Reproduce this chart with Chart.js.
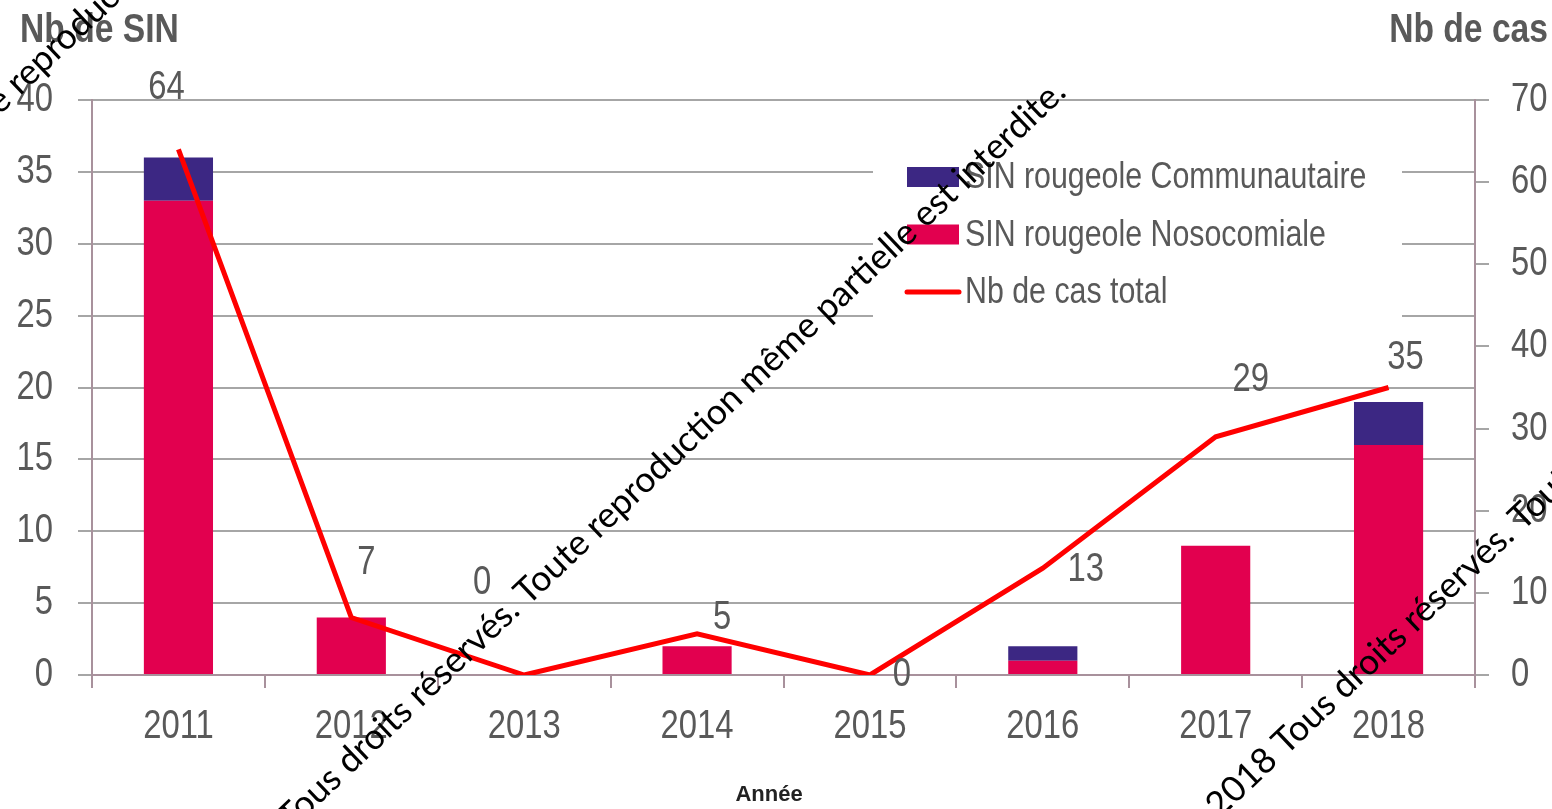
<!DOCTYPE html>
<html lang="fr">
<head>
<meta charset="utf-8">
<title>SIN rougeole 2011-2018</title>
<script src="https://cdn.jsdelivr.net/npm/chart.js@4.4.1/dist/chart.umd.min.js"></script>
<style>
  html, body { margin: 0; padding: 0; background: #fff; }
  #wrap { position: relative; width: 1552px; height: 809px; }
</style>
</head>
<body>
<div id="wrap"><canvas id="sinChart" width="1552" height="809"></canvas></div>
<script>
// Données
const annees = ['2011', '2012', '2013', '2014', '2015', '2016', '2017', '2018'];
const sinCommunautaire = [3, 0, 0, 0, 0, 1, 0, 3];
const sinNosocomiale = [33, 4, 0, 2, 0, 1, 9, 16];
const casTotal = [64, 7, 0, 5, 0, 13, 29, 35];

const FONT = '"Liberation Sans", Arial, sans-serif';
const NARROW = 0.82; // pas de police étroite installée : on comprime horizontalement
const GREY = '#595959';
const AXIS = '#a8919c';

// décalage des étiquettes autour des points de la courbe (px)
const labelOffsets = [[-12, -61], [15, -55], [-42, -92], [25, -16], [32, 0], [43, 2], [35, -57], [17, -30]];

// texte "Arial Narrow" simulé
function narrowText(ctx, txt, x, y, align) {
  ctx.save();
  ctx.translate(x, y);
  ctx.scale(NARROW, 1);
  ctx.textAlign = align;
  ctx.fillText(txt, 0, 0);
  ctx.restore();
}

const legendBox = {
  id: 'legendBox',
  beforeDatasetsDraw(chart) {
    const ctx = chart.ctx;
    const ds = chart.data.datasets;
    ctx.save();
    ctx.fillStyle = '#fff';
    ctx.fillRect(873, 128, 529, 200);
    ctx.font = '37px ' + FONT;
    ctx.textBaseline = 'middle';
    [1, 0, 2].forEach((i, k) => {
      const y = 177 + k * 57.5;
      if (ds[i].type === 'line') {
        ctx.strokeStyle = ds[i].borderColor;
        ctx.lineWidth = 5;
        ctx.lineCap = 'round';
        ctx.beginPath();
        ctx.moveTo(907, y);
        ctx.lineTo(959, y);
        ctx.stroke();
      } else {
        ctx.fillStyle = ds[i].backgroundColor;
        ctx.fillRect(907, y - 10, 52, 20);
      }
      ctx.fillStyle = GREY;
      narrowText(ctx, ds[i].label, 965, y + 1, 'left');
    });
    ctx.restore();
  }
};

const axisLabels = {
  id: 'axisLabels',
  afterDraw(chart) {
    const ctx = chart.ctx;
    const { x, y, y1 } = chart.scales;
    ctx.save();
    ctx.font = '40px ' + FONT;
    ctx.fillStyle = GREY;
    ctx.textBaseline = 'middle';
    y.ticks.forEach((t, i) => narrowText(ctx, String(t.value), 53, y.getPixelForTick(i), 'right'));
    y1.ticks.forEach((t, i) => narrowText(ctx, String(t.value), 1511, y1.getPixelForTick(i), 'left'));
    x.ticks.forEach((t, i) => narrowText(ctx, x.getLabelForValue(t.value), x.getPixelForTick(i), 727, 'center'));
    ctx.restore();
  }
};

const pointLabels = {
  id: 'pointLabels',
  afterDatasetsDraw(chart) {
    const ctx = chart.ctx;
    const meta = chart.getDatasetMeta(2);
    ctx.save();
    ctx.font = '40px ' + FONT;
    ctx.fillStyle = GREY;
    ctx.textBaseline = 'middle';
    meta.data.forEach((pt, i) => {
      const [dx, dy] = labelOffsets[i];
      narrowText(ctx, String(casTotal[i]), pt.x + dx, pt.y + dy, 'center');
    });
    ctx.restore();
  }
};

const textes = {
  id: 'textes',
  afterDraw(chart) {
    const ctx = chart.ctx;
    ctx.save();
    ctx.fillStyle = GREY;
    ctx.font = 'bold 41px ' + FONT;
    ctx.textBaseline = 'alphabetic';
    narrowText(ctx, 'Nb de SIN', 20, 42, 'left');
    narrowText(ctx, 'Nb de cas', 1548, 42, 'right');
    ctx.fillStyle = '#222';
    ctx.font = 'bold 22px ' + FONT;
    ctx.textAlign = 'center';
    ctx.textBaseline = 'middle';
    ctx.fillText('Année', 769, 795);

    // filigrane
    const ang = -43.5 * Math.PI / 180;
    const phrase = 'Tous droits réservés. Toute reproduction même partielle est interdite.';
    ctx.font = '100px Lato, sans-serif';
    const size = 100 * 1071 / ctx.measureText(phrase).width;
    ctx.font = size.toFixed(1) + 'px Lato, sans-serif';
    ctx.fillStyle = '#000';
    ctx.textBaseline = 'middle';
    const draw = (px, py, txt, shift) => {
      ctx.save();
      ctx.translate(px, py);
      ctx.rotate(ang);
      ctx.textAlign = 'left';
      ctx.fillText(txt, -shift, 0);
      ctx.restore();
    };
    // ligne principale : fin de "interdite." en haut
    draw(1060, 86, phrase, ctx.measureText(phrase).width);
    // ligne en bas à droite : début de "Tous"
    const pre2 = '2018 ';
    draw(1278, 748, pre2 + phrase, ctx.measureText(pre2).width);
    // coin haut gauche : début de "reproduction"
    draw(12, 88, 'Toute reproduction même partielle est interdite.', ctx.measureText('Toute ').width);
    ctx.restore();
  }
};

const tickFont = { family: FONT, size: 40 };

new Chart(document.getElementById('sinChart'), {
  data: {
    labels: annees,
    datasets: [{
      type: 'bar',
      label: 'SIN rougeole Nosocomiale',
      data: sinNosocomiale,
      backgroundColor: '#e2004f',
      yAxisID: 'y',
      stack: 'sin',
      barPercentage: 0.4,
      categoryPercentage: 1,
      order: 2
    }, {
      type: 'bar',
      label: 'SIN rougeole Communautaire',
      data: sinCommunautaire,
      backgroundColor: '#3c2783',
      yAxisID: 'y',
      stack: 'sin',
      barPercentage: 0.4,
      categoryPercentage: 1,
      order: 2
    }, {
      type: 'line',
      label: 'Nb de cas total',
      data: casTotal,
      borderColor: '#ff0000',
      borderWidth: 5,
      pointRadius: 0,
      tension: 0,
      fill: false,
      yAxisID: 'y1',
      order: 1
    }]
  },
  options: {
    responsive: false,
    devicePixelRatio: 1,
    animation: false,
    layout: { padding: { top: 100 } },
    plugins: {
      legend: { display: false },
      tooltip: { enabled: false }
    },
    scales: {
      x: {
        stacked: true,
        afterFit: s => { s.height = 134; },
        grid: { offset: true, drawOnChartArea: false, tickLength: 13, color: AXIS, lineWidth: 2 },
        border: { color: AXIS, width: 2 },
        ticks: { color: 'rgba(0,0,0,0)', font: tickFont, padding: 15, maxRotation: 0 }
      },
      y: {
        position: 'left',
        stacked: true,
        min: 0, max: 40,
        afterFit: s => { s.width = 92; },
        grid: { color: '#a6a6a6', lineWidth: 2, tickLength: 14 },
        border: { color: AXIS, width: 2 },
        ticks: { stepSize: 5, color: 'rgba(0,0,0,0)', font: tickFont, padding: 25 }
      },
      y1: {
        position: 'right',
        min: 0, max: 70,
        afterFit: s => { s.width = 77; },
        grid: { drawOnChartArea: false, color: '#a6a6a6', lineWidth: 2, tickLength: 14 },
        border: { color: AXIS, width: 2 },
        ticks: { stepSize: 10, color: 'rgba(0,0,0,0)', font: tickFont, padding: 22 }
      }
    }
  },
  plugins: [legendBox, pointLabels, axisLabels, textes]
});
</script>
</body>
</html>
